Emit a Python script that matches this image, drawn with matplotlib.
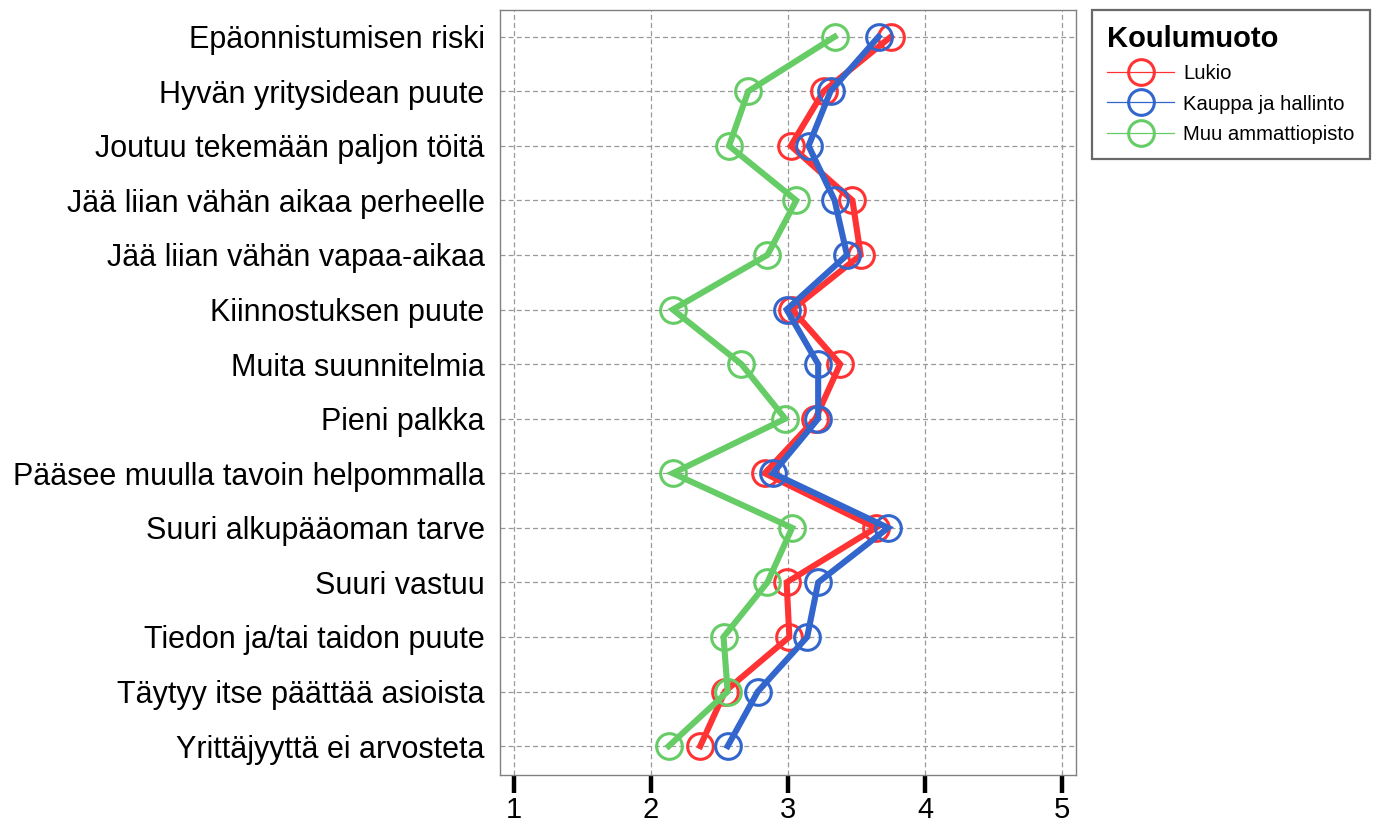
import matplotlib
matplotlib.use("Agg")
import matplotlib.pyplot as plt
from matplotlib.lines import Line2D
import numpy as np

plt.rcParams["font.family"] = ["Liberation Sans", "DejaVu Sans"]

# Arvot luettu kuvasta (asteikko 1-5)
categories = [
    "Epäonnistumisen riski",
    "Hyvän yritysidean puute",
    "Joutuu tekemään paljon töitä",
    "Jää liian vähän aikaa perheelle",
    "Jää liian vähän vapaa-aikaa",
    "Kiinnostuksen puute",
    "Muita suunnitelmia",
    "Pieni palkka",
    "Pääsee muulla tavoin helpommalla",
    "Suuri alkupääoman tarve",
    "Suuri vastuu",
    "Tiedon ja/tai taidon puute",
    "Täytyy itse päättää asioista",
    "Yrittäjyyttä ei arvosteta",
]
lukio = [3.75, 3.26, 3.02, 3.47, 3.53, 3.03, 3.38, 3.20, 2.83, 3.64, 2.99, 3.01, 2.54, 2.36]
kauppa = [3.66, 3.31, 3.15, 3.34, 3.43, 2.99, 3.22, 3.22, 2.89, 3.73, 3.22, 3.14, 2.78, 2.56]
muu = [3.34, 2.71, 2.57, 3.06, 2.85, 2.16, 2.66, 2.98, 2.16, 3.03, 2.85, 2.53, 2.56, 2.13]
series_names = ["Lukio", "Kauppa ja hallinto", "Muu ammattiopisto"]
x_ticks = [1, 2, 3, 4, 5]

COLORS = ["#FF3333", "#3366CC", "#66CC66"]

fig = plt.figure(figsize=(13.76, 8.25), dpi=100)
ax = fig.add_axes([500 / 1376, 1 - 775 / 825, 576 / 1376, 765 / 825])

y = np.arange(len(categories))
handles = []
for vals, col, name in zip([lukio, kauppa, muu], COLORS, series_names):
    ax.plot(vals, y, color=col, linewidth=4.4, marker="o", markersize=18.5,
            markerfacecolor="none", markeredgecolor=col, markeredgewidth=2.2,
            solid_joinstyle="miter", zorder=3)
    handles.append(Line2D([0], [0], color=col, linewidth=0.9, marker="o",
                          markersize=18.5, markerfacecolor="none",
                          markeredgecolor=col, markeredgewidth=2.2))

ax.set_xlim(0.9, 5.1)
ax.set_ylim(len(categories) - 0.47, -0.49)
ax.set_xticks(x_ticks)
ax.set_xticklabels([str(t) for t in x_ticks])
ax.set_yticks(y)
ax.set_yticklabels(categories)

ax.grid(True, color="#999999", linestyle=(0, (4, 2.5)), linewidth=0.9, zorder=0)
ax.set_axisbelow(True)
for sp in ax.spines.values():
    sp.set_color("#808080")
    sp.set_linewidth(1.0)

ax.tick_params(axis="y", length=0, pad=11, labelsize=22)
ax.tick_params(axis="x", length=13, width=3.2, direction="out", pad=2,
               labelsize=21, color="black")

leg = fig.legend(handles, series_names, title="Koulumuoto",
                 loc="upper left", bbox_to_anchor=(1092 / 1376, 1 - 10 / 825),
                 borderaxespad=0, frameon=True, fancybox=False, edgecolor="#444444",
                 fontsize=14.6, title_fontproperties={"weight": "bold", "size": 21},
                 handlelength=3.3, handletextpad=0.45, labelspacing=0.55,
                 borderpad=0.75, alignment="left")
leg.get_frame().set_linewidth(1.6)

fig.savefig("out.png", dpi=100)
